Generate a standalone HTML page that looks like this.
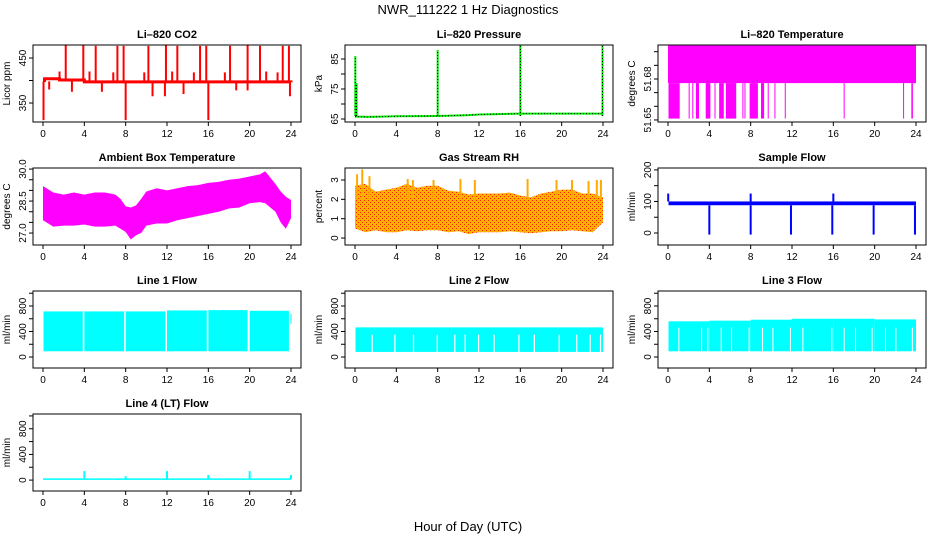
<!DOCTYPE html>
<html><head><meta charset="utf-8"><style>
html,body{margin:0;padding:0;background:#fff;}
svg{display:block;font-family:"Liberation Sans",sans-serif;}
</style></head><body>
<svg id="chart" width="936" height="540" viewBox="0 0 936 540" xmlns="http://www.w3.org/2000/svg">
<defs>
<pattern id="rhpat" width="4" height="4" patternUnits="userSpaceOnUse">
<rect width="4" height="4" fill="#ffb000"/><rect width="1" height="1" fill="#ff2000"/><rect x="2" y="2" width="1" height="1" fill="#ff2000"/>
</pattern>
</defs>
<text x="468" y="14" text-anchor="middle" font-size="13">NWR_111222  1 Hz Diagnostics</text>
<text x="468" y="531" text-anchor="middle" font-size="13">Hour of Day (UTC)</text>
</svg>
<script>
// ---- data ----
const xTicks=[0,4,8,12,16,20,24];
// CO2
const co2BaseT=[0,0.15,1.6,4.0,24];
const co2BaseV=[400,404,401,397,396];
const co2UpT=[2.2,3.9,5.1,7.2,7.8,10.2,11.9,13.0,15.2,15.8,18.1,19.8,21.0,23.2,23.8,1.6,4.5,6.8,9.8,12.5,14.6,17.6,21.6,22.7];
const co2UpV=[478,479,477,477,477,477,478,477,477,477,477,479,477,477,477,420,420,418,418,420,418,418,420,418];
const co2DownT=[0.05,8.0,16.0,11.8,23.9,0.6,2.8,5.7,10.6,13.6,18.7,19.8];
const co2DownV=[312,312,312,365,365,380,375,375,365,370,378,378];
// Pressure
const prT=[0,0.05,1.2,4,8,9,11,12,16,24];
const prV=[65.8,65.8,65.7,65.9,66.0,66.1,66.3,66.5,66.8,66.8];
const prSpikeT=[0.03,0.15,8.0,16.0,23.95];
const prSpikeV=[86,77,88,90,90];
// Li-820 temperature
const ltHi=51.7045, ltMid=51.677, ltLo=51.651;
const ltDropStart=[0.05,2.0,2.35,2.7,3.65,4.5,4.95,5.6,7.2,7.4,7.9,9.0,9.65,10.3,11.3,17.0,22.75,23.55];
const ltDropEnd=[1.13,2.05,2.4,3.0,4.1,4.55,5.4,6.6,7.25,7.45,8.7,9.3,9.7,10.35,11.35,17.05,22.8,23.7];
// Ambient box temperature
const abT=[0,1,2,3,4,5,6,7,7.5,8,8.5,9,9.5,10,11,12,13,14,15,16,17,18,19,20,21,21.5,22,22.5,23,23.5,24];
const abHi=[29.2,28.9,28.8,28.9,28.8,28.9,28.9,28.8,28.6,28.25,28.2,28.3,28.6,28.95,29.1,29.0,29.1,29.2,29.25,29.35,29.4,29.5,29.55,29.65,29.75,29.9,29.6,29.3,28.95,28.7,28.55];
const abLo=[27.6,27.3,27.35,27.35,27.4,27.3,27.3,27.35,27.2,27.05,26.7,26.9,27.0,27.35,27.45,27.45,27.6,27.7,27.8,27.9,28.0,28.15,28.2,28.4,28.45,28.4,28.2,28.0,27.5,27.2,27.7];
// Gas stream RH
const rhT=[0,1,2,3,4,5,6,7,8,9,10,11,12,13,14,15,16,17,18,19,20,21,22,23,24];
const rhHi=[2.7,2.8,2.4,2.5,2.6,2.8,2.6,2.7,2.7,2.45,2.4,2.25,2.3,2.3,2.3,2.35,2.2,2.1,2.3,2.4,2.5,2.5,2.3,2.3,2.1];
const rhLo=[0.5,0.3,0.4,0.3,0.3,0.4,0.35,0.4,0.4,0.3,0.35,0.2,0.3,0.3,0.3,0.35,0.3,0.25,0.3,0.35,0.35,0.4,0.35,0.3,0.8];
const rhSpikeT=[0.2,0.7,1.4,5.1,5.6,7.6,10.2,11.6,16.7,19.5,21.0,22.6,23.4,23.8];
const rhSpikeV=[3.3,3.55,3.2,3.05,3.0,3.0,3.05,3.0,3.05,3.0,3.0,2.95,3.0,3.0];
// Sample flow
const sfLo=88, sfHi=100;
const sfDownT=[4.0,8.0,11.9,15.9,19.9,23.9];
const sfDownV=[-5,-5,-5,-5,-5,-5];
const sfUpT=[0.02,8.0,16.0];
const sfUpV=[125,125,125];
// Line flows
const l1SegStart=[0.05,4.0,8.0,12.0,16.0,20.0];
const l1SegEnd=[3.85,7.85,11.85,15.85,19.8,23.8];
const l1Hi=[715,715,715,730,735,725];
const l1Lo=90;
const l2Lo=80, l2Hi=465, l2DropTop=350;
const l2DropT=[1.6,3.8,5.6,7.9,9.6,10.6,11.9,13.4,15.8,17.3,19.7,21.4,22.7,23.7];
const l3SegStart=[0.05,4,8,12,16,20];
const l3SegEnd=[4,8,12,16,20,24];
const l3Hi=[560,570,585,600,600,590];
const l3Lo=90, l3DropTop=460;
const l3DropT=[1.0,3.2,3.8,5.1,6.1,7.8,9.1,10.1,11.8,13.0,15.8,17.0,18.1,19.7,21.0,22.0,23.6];
const l4Base=15;
const l4T=[4,8,12,16,20,24];
const l4V=[140,60,140,80,140,80];

// ---- helpers ----
const NS="http://www.w3.org/2000/svg";
const svg=document.getElementById('chart');
function mk(tag,attrs,parent){const e=document.createElementNS(NS,tag);for(const k in attrs)e.setAttribute(k,attrs[k]);(parent||svg).appendChild(e);return e;}
const colL=[33,345,658], rowT=[45,168,291,414], W=268, H=77;
let clipN=0;
function panel(key,col,row,title,ylab,ymin,ymax,ticks,labels,fmt){
  const L=colL[col],T=rowT[row],B=T+H;
  const sx=t=>L+10+t*(W-20)/24;
  const sy=v=>B-(v-ymin)/(ymax-ymin)*H;
  const g=mk('g',{});
  
  
  const cid='clip'+(clipN++);
  const cp=mk('clipPath',{id:cid},g);mk('rect',{x:L,y:T,width:W,height:H},cp);
  const plot=mk('g',{'clip-path':'url(#'+cid+')'},g);
  
  
  const t=mk('text',{x:L+W/2,y:T-7,'text-anchor':'middle','font-size':'11','font-weight':'bold'},g);t.textContent=title;
  
  
  const yl=mk('text',{transform:`translate(${L-23},${T+H/2}) rotate(-90)`,'text-anchor':'middle','font-size':'10'},g);yl.textContent=ylab;
  
  
  return {sx,sy,plot,g,L,T,B,ticks,labels,fmt,key};
}
function axes(p){
  const {sx,sy,g,L,T,B,ticks,labels,fmt,key}=p;
  const box=mk('rect',{x:L,y:T,width:W,height:H,fill:'none',stroke:'#000','stroke-width':1},g);
  
  
  xTicks.forEach(v=>{
    mk('line',{x1:sx(v),x2:sx(v),y1:B,y2:B+4,stroke:'#000'},g);
    const tx=mk('text',{x:sx(v),y:B+15,'text-anchor':'middle','font-size':'10'},g);tx.textContent=v;
    
    
  });
  ticks.forEach(v=>{
    mk('line',{x1:L-4,x2:L,y1:sy(v),y2:sy(v),stroke:'#000'},g);
  });
  labels.forEach(v=>{
    const tx=mk('text',{transform:`translate(${L-7},${sy(v)}) rotate(-90)`,'text-anchor':'middle','font-size':'10'},g);tx.textContent=fmt?fmt(v):v;
    
    
  });
}
function vline(p,t,v1,v2,col,w){return mk('line',{x1:p.sx(t),x2:p.sx(t),y1:p.sy(v1),y2:p.sy(v2),stroke:col,'stroke-width':w||1.5},p.plot);}
function band(p,T,lo,hi,fill){
  let d='M'+T.map((t,i)=>p.sx(t)+','+p.sy(hi[i])).join('L');
  d+='L'+T.map((t,i)=>p.sx(t)+','+p.sy(lo[i])).reverse().join('L')+'Z';
  return mk('path',{d,fill},p.plot);
}
function rectV(p,t0,t1,v0,v1,fill){return mk('rect',{x:p.sx(t0),y:p.sy(v1),width:Math.max(1,p.sx(t1)-p.sx(t0)),height:p.sy(v0)-p.sy(v1),fill},p.plot);}

// ---- CO2 ----
let p=panel('co2',0,0,'Li–820 CO2','Licor ppm',307.8,478.9,[350,400,450],[350,450]);
co2UpT.forEach((t,i)=>{const e=vline(p,t,400,co2UpV[i],'#ff0000',2);
});
co2DownT.forEach((t,i)=>{const e=vline(p,t,398,co2DownV[i],'#ff0000',2);
});
{let d='M'+p.sx(co2BaseT[0])+','+p.sy(co2BaseV[0]);for(let i=1;i<co2BaseT.length;i++){d+='L'+p.sx(co2BaseT[i])+','+p.sy(co2BaseV[i-1])+'L'+p.sx(co2BaseT[i])+','+p.sy(co2BaseV[i]);}
const e=mk('path',{d,fill:'none',stroke:'#ff0000','stroke-width':3},p.plot);

}
axes(p);

// ---- Pressure ----
p=panel('pressure',1,0,'Li–820 Pressure','kPa',64,89.67,[65,70,75,80,85],[65,75,85]);
{const d='M'+prT.map((t,i)=>p.sx(t)+','+p.sy(prV[i])).join('L');
const e=mk('path',{d,fill:'none',stroke:'#00ee00','stroke-width':2},p.plot);


mk('path',{d,fill:'none',stroke:'#000','stroke-width':1,'stroke-dasharray':'1,2'},p.plot);}
prSpikeT.forEach((t,i)=>{const e=vline(p,t,66,prSpikeV[i],'#00ee00',2);

mk('line',{x1:p.sx(t),x2:p.sx(t),y1:p.sy(66),y2:p.sy(prSpikeV[i]),stroke:'#000','stroke-width':1,'stroke-dasharray':'1,2'},p.plot);});
axes(p);

// ---- Li-820 Temperature ----
p=panel('li-temp',2,0,'Li–820 Temperature','degrees C',51.6485,51.7049,[51.65,51.66,51.67,51.68,51.69,51.70],[51.65,51.68],v=>v.toFixed(2));
{const e=rectV(p,0,24,ltMid,ltHi,'#ff00ff');
}
ltDropStart.forEach((t,i)=>{const e=rectV(p,t,ltDropEnd[i],ltLo,ltMid,'#ff00ff');
});
axes(p);

// ---- Ambient ----
p=panel('ambient',0,1,'Ambient Box Temperature','degrees C',26.44,30.05,[27,27.5,28,28.5,29,29.5,30],[27,28.5,30],v=>v.toFixed(1));
{const e=band(p,abT,abLo,abHi,'#ff00ff');
}
axes(p);

// ---- RH ----
p=panel('rh',1,1,'Gas Stream RH','percent',-0.36,3.62,[0,1,2,3],[0,1,2,3]);
{const e=band(p,rhT,rhLo,rhHi,'url(#rhpat)');
}
rhSpikeT.forEach((t,i)=>{const e=vline(p,t,2,rhSpikeV[i],'#ffaa00',2);
});
axes(p);

// ---- Sample flow ----
p=panel('sample-flow',2,1,'Sample Flow','ml/min',-38,206,[0,50,100,150,200],[0,100,200]);
{const e=rectV(p,0.05,24,sfLo,sfHi,'#0000ff');
}
sfDownT.forEach((t,i)=>{const e=vline(p,t,sfLo,sfDownV[i],'#0000ff',2);
});
sfUpT.forEach((t,i)=>{const e=vline(p,t,sfHi,sfUpV[i],'#0000ff',2);
});
axes(p);

const fT=[0,200,400,600,800,1000], fL=[0,400,800];
// ---- Line 1 ----
p=panel('line1',0,2,'Line 1 Flow','ml/min',-172,1035,fT,fL);
l1SegStart.forEach((s,i)=>{const e=rectV(p,s,l1SegEnd[i],l1Lo,l1Hi[i],'#00ffff');
});
{const e=rectV(p,23.95,24.05,520,680,'#00ffff');
}
axes(p);

// ---- Line 2 ----
p=panel('line2',1,2,'Line 2 Flow','ml/min',-172,1035,fT,fL);
{const e=rectV(p,0.05,24,l2Lo,l2Hi,'#00ffff');
}
l2DropT.forEach(t=>{const e=rectV(p,t,t+0.12,l2Lo-5,l2DropTop,'#ffffff');
});
axes(p);

// ---- Line 3 ----
p=panel('line3',2,2,'Line 3 Flow','ml/min',-172,1035,fT,fL);
l3SegStart.forEach((s,i)=>{const e=rectV(p,s,l3SegEnd[i],l3Lo,l3Hi[i],'#00ffff');
});
l3DropT.forEach(t=>{const e=rectV(p,t,t+0.1,l3Lo-5,l3DropTop,'#ffffff');
});
axes(p);

// ---- Line 4 ----
p=panel('line4',0,3,'Line 4 (LT) Flow','ml/min',-170,1030,fT,fL);
{const e=rectV(p,0,24,l4Base-12,l4Base+12,'#00ffff');
}
l4T.forEach((t,i)=>{const e=vline(p,t,l4Base,l4V[i],'#00ffff',2);
});
axes(p);
</script>
</body></html>
